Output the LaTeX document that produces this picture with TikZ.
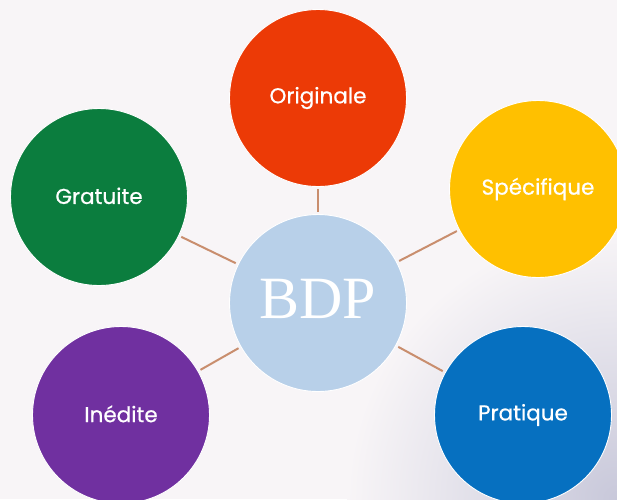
\documentclass[tikz,border=0pt]{standalone}
\usepackage{fontspec}
\setmainfont{Poppins}[FakeBold=0.6]
\newfontfamily\bdpfont{Liberation Serif}
\definecolor{bgc}{HTML}{F8F5F7}
\definecolor{cornerc}{HTML}{C8C8DA}
\definecolor{linkc}{HTML}{C98E6E}
\definecolor{redc}{HTML}{EC3A06}
\definecolor{yellowc}{HTML}{FFC000}
\definecolor{greenc}{HTML}{0B7D3E}
\definecolor{purplec}{HTML}{7030A0}
\definecolor{bluec}{HTML}{0670C0}
\definecolor{hubc}{HTML}{B8D0E9}
\tikzset{
  disc/.style={circle,draw=white,line width=0.9pt,minimum size=177pt,inner sep=0pt,text=white,font=\fontsize{21.5}{24}\selectfont},
  link/.style={draw=linkc,line width=2pt,shorten >=2.5pt,shorten <=2.5pt}
}
\begin{document}
\begin{tikzpicture}[x=1pt,y=-1pt]
\useasboundingbox (0,0) rectangle (617,499);
\clip (0,0) rectangle (617,499);
\fill[bgc] (0,0) rectangle (617,499);
\shade[inner color=cornerc,outer color=bgc] (617,499) circle (270pt);
\node[disc,fill=hubc] (bdp) at (318,303) {};
\node[disc,fill=redc] (orig) at (318,98) {\raisebox{-2.5pt}{Originale}};
\node[disc,fill=yellowc] (spec) at (538,189) {\raisebox{-1pt}{Spécifique}};
\node[disc,fill=greenc] (grat) at (99,197) {\raisebox{2.5pt}{Gratuite}};
\node[disc,fill=purplec] (ined) at (121,415) {\raisebox{2.5pt}{Inédite}};
\node[disc,fill=bluec] (prat) at (523,415) {\raisebox{1pt}{Pratique}};
\node[text=white,font=\bdpfont\fontsize{60}{60}\selectfont,inner sep=0pt] (bdplabel) at (318,299) {BDP};
\draw[link] (bdp) -- (orig);
\draw[link] (bdp) -- (spec);
\draw[link] (bdp) -- (grat);
\draw[link] (bdp) -- (ined);
\draw[link] (bdp) -- (prat);
\end{tikzpicture}
\end{document}
